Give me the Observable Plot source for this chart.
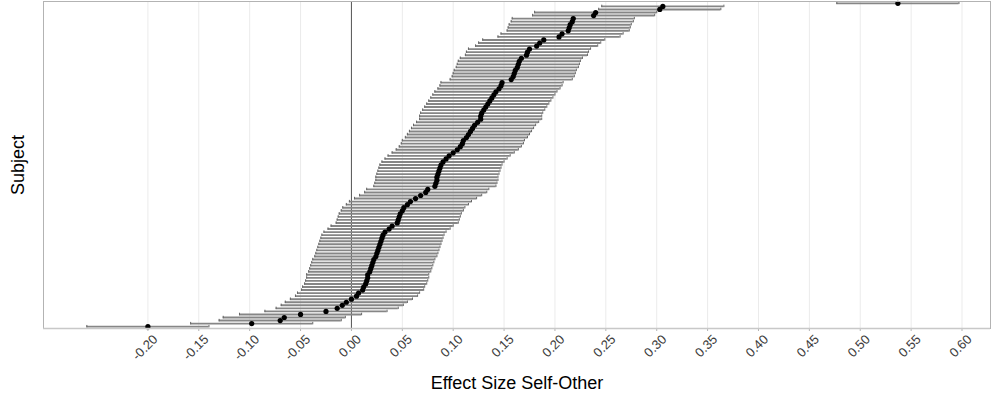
<!DOCTYPE html>
<html><head><meta charset="utf-8">
<script src="https://cdn.jsdelivr.net/npm/d3@7"></script>
<script src="https://cdn.jsdelivr.net/npm/@observablehq/plot@0.6"></script>
<style>body{margin:0;background:#fff} svg{display:block}</style>
</head><body><div id="chart"></div>
<script>
// Point estimates, one per subject, sorted bottom (first) to top (last)
const estimates = [
  -0.200, -0.098, -0.070, -0.066, -0.050, -0.025, -0.014, -0.009, -0.005, 0.000,
  0.005, 0.007, 0.011, 0.012, 0.014, 0.015, 0.016, 0.016, 0.018, 0.019,
  0.020, 0.021, 0.022, 0.024, 0.025, 0.026, 0.027, 0.028, 0.029, 0.030,
  0.031, 0.033, 0.037, 0.040, 0.045, 0.046, 0.047, 0.048, 0.050, 0.0515,
  0.055, 0.058, 0.063, 0.068, 0.073, 0.075, 0.082, 0.083, 0.084, 0.084,
  0.085, 0.086, 0.087, 0.088, 0.090, 0.093, 0.096, 0.100, 0.104, 0.107,
  0.109, 0.110, 0.113, 0.115, 0.117, 0.119, 0.121, 0.124, 0.127, 0.127,
  0.128, 0.130, 0.132, 0.134, 0.136, 0.138, 0.140, 0.142, 0.145, 0.147,
  0.148, 0.157, 0.159, 0.160, 0.161, 0.163, 0.164, 0.165, 0.167, 0.172,
  0.173, 0.175, 0.182, 0.185, 0.189, 0.204, 0.207, 0.213, 0.214, 0.215,
  0.217, 0.218, 0.238, 0.240, 0.303, 0.306, 0.537
];
// Half-width of each interval (about 0.06 everywhere)
const ciHalfWidth = 0.06;
const xTicks = [-0.20, -0.15, -0.10, -0.05, 0.00, 0.05, 0.10, 0.15, 0.20, 0.25,
                0.30, 0.35, 0.40, 0.45, 0.50, 0.55, 0.60];
const xDomain = [-0.3026, 0.628];
const xTitle = "Effect Size Self-Other";
const yTitle = "Subject";

const rows = estimates.map((e, i) => ({subject: i + 1, est: e, lo: e - ciHalfWidth, hi: e + ciHalfWidth}));
const n = rows.length;
const fmt = d => (Math.abs(d) < 1e-9 ? 0 : d).toFixed(2);

const plot = Plot.plot({
  width: 992, height: 400,
  marginLeft: 43, marginRight: 2, marginTop: 1, marginBottom: 72,
  style: {fontFamily: "'Liberation Sans', Arial, sans-serif", background: "#fff", overflow: "visible"},
  x: {domain: xDomain, ticks: xTicks, tickFormat: fmt, label: null},
  y: {domain: [0.4, n + 0.6], axis: null},
  marks: [
    Plot.gridX(xTicks, {stroke: "#ebebeb", strokeOpacity: 1, strokeWidth: 1}),
    Plot.ruleX([0], {stroke: "#555", strokeWidth: 1}),
    Plot.ruleY(rows, {y: "subject", x1: "lo", x2: "hi", stroke: "#868686", strokeWidth: 1.9}),
    Plot.ruleX(rows, {x: "lo", y1: d => d.subject - 0.4, y2: d => d.subject + 0.4, stroke: "#666", strokeWidth: 1}),
    Plot.ruleX(rows, {x: "hi", y1: d => d.subject - 0.4, y2: d => d.subject + 0.4, stroke: "#666", strokeWidth: 1}),
    Plot.dot(rows, {x: "est", y: "subject", r: 2.6, fill: "#000", stroke: null}),
    Plot.frame({stroke: "#b3b3b3"}),
    Plot.axisX({ticks: xTicks, tickFormat: () => "", tickSize: 3, stroke: "#b3b3b3", label: null}),
    Plot.text(xTicks, {x: d => d, text: fmt, frameAnchor: "bottom", rotate: -45,
                       textAnchor: "end", lineAnchor: "top", dx: 4, dy: 5, fontSize: 13, fill: "#3d3d3d"}),
    Plot.ruleY([xDomain], {y: () => 0.4, stroke: "#c8c8c8", strokeWidth: 1.5}),
    Plot.text([xTitle], {text: d => d, frameAnchor: "bottom", dy: 60, fontSize: 18, fill: "#000"}),
    Plot.text([yTitle], {text: d => d, frameAnchor: "left", textAnchor: "middle", dx: -25, rotate: -90, fontSize: 18, fill: "#000"})
  ]
});
document.getElementById("chart").append(plot);
</script>
</body></html>
